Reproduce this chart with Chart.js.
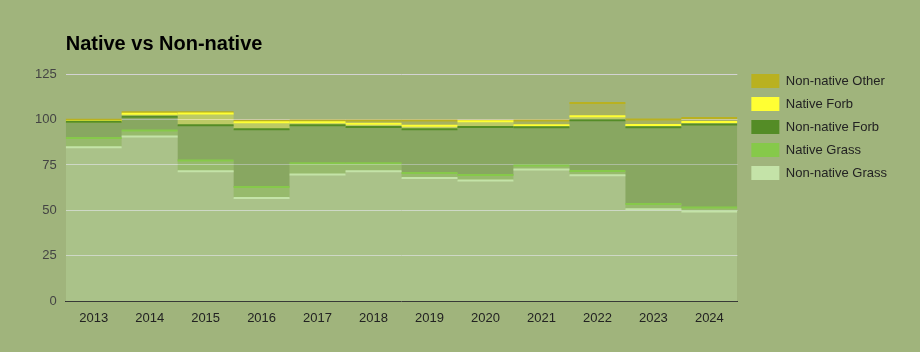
<!DOCTYPE html>
<html>
<head>
<meta charset="utf-8">
<script src="https://cdn.jsdelivr.net/npm/chart.js@4"></script>
<style>
    html, body { margin: 0; padding: 0; background: #a0b47c; }
    #wrap { width: 920px; height: 352px; }
</style>
</head>
<body>
<div id="wrap"><canvas id="chart"></canvas></div>
<script>
// ===== DATA =====
const years = ['2013', '2014', '2015', '2016', '2017', '2018', '2019', '2020', '2021', '2022', '2023', '2024'];
const nonNativeGrass = [84.8, 90.7, 71.5, 56.8, 69.7, 71.5, 67.9, 66.4, 72.5, 69.4, 50.7, 49.4];
const nativeGrass = [5.0, 3.3, 5.9, 6.1, 6.2, 4.4, 2.7, 3.1, 2.2, 2.3, 2.8, 2.2];
const nonNativeForb = [9.0, 7.5, 19.4, 31.7, 20.9, 20.0, 24.0, 26.4, 21.0, 27.9, 42.2, 45.7];
const nativeForb = [0.2, 1.7, 6.5, 3.9, 1.7, 1.8, 2.0, 3.1, 1.1, 2.2, 1.2, 1.3];
const nonNativeOther = [0.8, 0.8, 0.7, 0.8, 1.0, 1.8, 2.9, 0.3, 2.7, 7.2, 3.1, 2.2];
const yTicks = [0, 25, 50, 75, 100, 125];

// areas: one step per year, last value repeated at the right edge
const steps = arr => arr.map((v, i) => ({ x: i, y: v })).concat([{ x: arr.length, y: arr[arr.length - 1] }]);
// lines: a point at the start of each year and one just before the next
const flats = arr => arr.flatMap((v, i) => [{ x: i, y: v }, { x: i + 0.9999, y: v }]);

const areaSeries = (label, data, rgb, fill) => ({
    label: label,
    stack: 'area',
    order: 1,
    data: steps(data),
    borderWidth: 0,
    borderColor: 'rgb(' + rgb + ')',
    backgroundColor: 'rgba(' + rgb + ', 0.3)',
    stepped: true,
    pointRadius: 0,
    fill: fill
});

// same values stacked separately, stroked only along the flat tops
const topLine = (label, data, rgb) => ({
    label: label,
    stack: 'line',
    order: 0,
    isLine: true,
    data: flats(data),
    borderWidth: 2,
    borderColor: 'rgb(' + rgb + ')',
    pointRadius: 0,
    tension: 0,
    fill: false,
    segment: { borderColor: ctx => (ctx.p0DataIndex % 2 ? 'rgba(0,0,0,0)' : undefined) }
});

const colors = {
    nng: '196, 227, 168',
    ng: '134, 201, 74',
    nnf: '84, 140, 38',
    nf: '255, 255, 51',
    nno: '185, 177, 32'
};

const font = { family: '"Liberation Sans", Arial, sans-serif', size: 13 };

// nudge the legend down and right, next to the top of the plot
const legendShift = {
    id: 'legendShift',
    afterLayout(chart) {
        const lg = chart.legend;
        lg.left += 5; lg.right += 5;
        lg.top += 34; lg.bottom += 34;
    }
};

new Chart(document.getElementById('chart'), {
    type: 'line',
    plugins: [legendShift],
    data: {
        datasets: [
            areaSeries('Non-native Grass', nonNativeGrass, colors.nng, 'origin'),
            areaSeries('Native Grass', nativeGrass, colors.ng, '-1'),
            areaSeries('Non-native Forb', nonNativeForb, colors.nnf, '-1'),
            areaSeries('Native Forb', nativeForb, colors.nf, '-1'),
            areaSeries('Non-native Other', nonNativeOther, colors.nno, '-1'),
            topLine('Non-native Grass', nonNativeGrass, colors.nng),
            topLine('Native Grass', nativeGrass, colors.ng),
            topLine('Non-native Forb', nonNativeForb, colors.nnf),
            topLine('Native Forb', nativeForb, colors.nf),
            topLine('Non-native Other', nonNativeOther, colors.nno)
        ]
    },
    options: {
        responsive: true,
        maintainAspectRatio: false,
        animation: false,
        layout: { padding: { top: 31, left: 26, right: 28, bottom: 25 } },
        plugins: {
            title: {
                display: true,
                text: 'Native vs Non-native',
                align: 'start',
                fullSize: false,
                color: '#000',
                font: { family: font.family, size: 20, weight: 'bold' },
                padding: { top: 1, bottom: 18 }
            },
            legend: {
                position: 'right',
                align: 'start',
                labels: {
                    color: '#222',
                    font: font,
                    boxWidth: 28,
                    boxHeight: 14,
                    padding: 9,
                    generateLabels: chart => chart.data.datasets
                        .map((ds, i) => ({
                            text: ds.label,
                            fillStyle: ds.borderColor,
                            strokeStyle: ds.borderColor,
                            lineWidth: 0,
                            datasetIndex: i,
                            fontColor: '#222',
                            isLine: ds.isLine
                        }))
                        .filter(item => !item.isLine)
                        .reverse()
                }
            },
            tooltip: { enabled: false }
        },
        scales: {
            x: {
                type: 'linear',
                min: 0,
                max: years.length,
                afterBuildTicks: axis => { axis.ticks = years.map((y, i) => ({ value: i + 0.5 })); },
                ticks: {
                    color: '#222',
                    font: font,
                    padding: 1,
                    maxRotation: 0,
                    callback: (v, i) => years[i]
                },
                grid: { display: false },
                border: { display: true, color: '#333', width: 1 }
            },
            y: {
                stacked: true,
                min: 0,
                max: 125,
                afterBuildTicks: axis => { axis.ticks = yTicks.map(v => ({ value: v })); },
                ticks: { color: '#444', font: font, padding: 9 },
                grid: { color: '#d3d3d3', drawTicks: false },
                border: { display: false }
            }
        }
    }
});
</script>
</body>
</html>
